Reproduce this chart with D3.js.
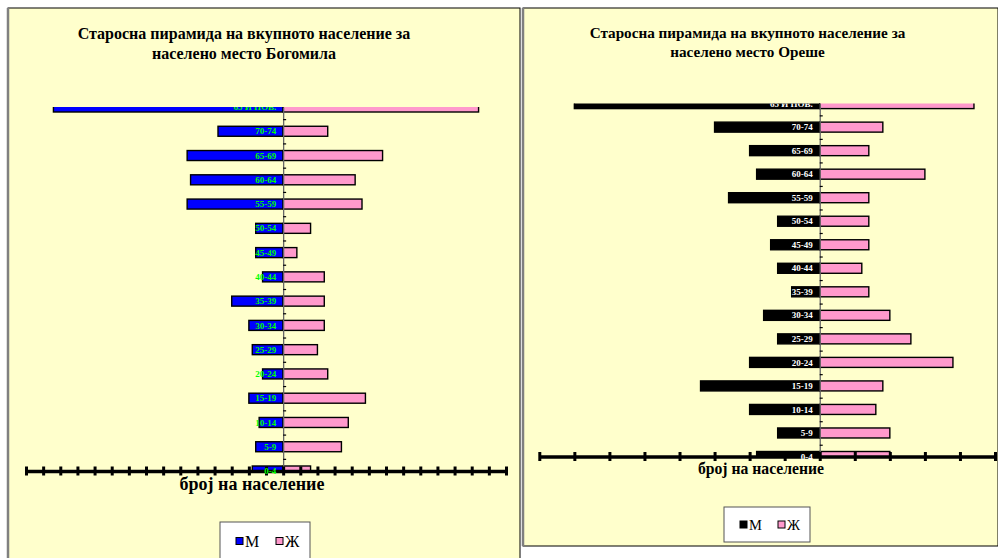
<!DOCTYPE html>
<html>
<head>
<meta charset="utf-8">
<script src="https://cdn.jsdelivr.net/npm/d3@7"></script>
<style>
  body { margin: 0; background: #fff; }
  svg text { font-family: "Liberation Serif", "Times New Roman", serif; }
</style>
</head>
<body>
<script>
// age groups, bottom to top
const ageGroups = ["0-4","5-9","10-14","15-19","20-24","25-29","30-34","35-39",
                   "40-44","45-49","50-54","55-59","60-64","65-69","70-74","65 И ПОВ."];

const bogomilaMale   = [9, 8, 7, 10, 6, 9, 10, 15, 6, 8, 8, 28, 27, 28, 19, 67];
const bogomilaFemale = [8, 17, 19, 24, 13, 10, 12, 12, 12, 4, 8, 23, 21, 29, 13, 57];

const oresheMale   = [9, 6, 10, 17, 10, 6, 8, 4, 6, 7, 6, 13, 9, 10, 15, 35];
const oresheFemale = [10, 10, 8, 9, 19, 13, 10, 7, 6, 7, 7, 7, 15, 7, 9, 22];

const titleLine1 = "Старосна пирамида на вкупното население за";
const axisTitle = "број на население";
const legendLabels = ["М", "Ж"];

const w = 998, h = 558;
const svg = d3.select("body").append("svg")
  .attr("width", w).attr("height", h);

function drawPyramid(cfg) {
  const g = svg.append("g");

  // chart area
  g.append("rect")
    .attr("x", cfg.box[0]).attr("y", cfg.box[1])
    .attr("width", cfg.box[2] - cfg.box[0]).attr("height", cfg.box[3] - cfg.box[1])
    .style("fill", "#FFFFCC").style("stroke", "#000").style("stroke-width", 1);
  g.append("line")
    .attr("x1", cfg.box[0]).attr("x2", cfg.box[0])
    .attr("y1", cfg.box[1]).attr("y2", cfg.box[3])
    .style("stroke", "#808080").style("stroke-width", 2.5);

  // title
  g.append("text").attr("x", cfg.titleX).attr("y", cfg.titleY[0])
    .attr("text-anchor", "middle").style("font-weight", "bold")
    .style("font-size", cfg.titleSize + "px").text(titleLine1);
  g.append("text").attr("x", cfg.titleX).attr("y", cfg.titleY[1])
    .attr("text-anchor", "middle").style("font-weight", "bold")
    .style("font-size", cfg.titleSize + "px").text("населено место " + cfg.place);

  const xScale = d3.scaleLinear().domain(cfg.domain).range(cfg.xRange);
  const yScale = d3.scalePoint().domain(ageGroups).range([cfg.plotBottom, cfg.plotTop]);
  const yIdx = d3.scaleLinear().domain([0, ageGroups.length - 1]).range([cfg.plotBottom, cfg.plotTop]);
  const barH = 10;

  const clipId = "clip-" + cfg.place;
  svg.append("clipPath").attr("id", clipId)
    .append("rect")
    .attr("x", cfg.xRange[0]).attr("y", cfg.plotTop)
    .attr("width", cfg.xRange[1] - cfg.xRange[0])
    .attr("height", cfg.plotBottom - cfg.plotTop);
  svg.append("clipPath").attr("id", clipId + "-lab")
    .append("rect")
    .attr("x", cfg.xRange[0]).attr("y", cfg.plotTop)
    .attr("width", cfg.xRange[1] - cfg.xRange[0])
    .attr("height", cfg.plotBottom - cfg.plotTop + 4);

  const plot = g.append("g").attr("clip-path", "url(#" + clipId + ")");

  plot.selectAll(".male")
    .data(ageGroups)
    .enter().append("rect")
    .attr("class", "male")
    .attr("x", (d, i) => xScale(-cfg.male[i]))
    .attr("y", (d) => yScale(d) - barH / 2)
    .attr("width", (d, i) => xScale(0) - xScale(-cfg.male[i]))
    .attr("height", barH)
    .style("fill", cfg.maleColor).style("stroke", "#000").style("stroke-width", 1.4);

  plot.selectAll(".female")
    .data(ageGroups)
    .enter().append("rect")
    .attr("class", "female")
    .attr("x", xScale(0))
    .attr("y", (d) => yScale(d) - barH / 2)
    .attr("width", (d, i) => xScale(cfg.female[i]) - xScale(0))
    .attr("height", barH)
    .style("fill", "#FF99CC").style("stroke", "#000").style("stroke-width", 1.4);

  // category axis with ticks between groups
  const catAxis = d3.axisRight(yIdx)
    .tickValues(d3.range(0.5, ageGroups.length - 1, 1))
    .tickSize(3).tickSizeOuter(0).tickFormat("");
  const ca = g.append("g")
    .attr("transform", "translate(" + xScale(0) + ",0)")
    .call(catAxis);
  ca.select(".domain").style("stroke", "#666").style("stroke-width", 1.3);
  ca.selectAll(".tick line").style("stroke", "#000").style("stroke-width", 1.2);

  // value axis
  const xAxis = d3.axisBottom(xScale)
    .tickValues(d3.range(cfg.domain[0], cfg.domain[1] + 1, 5))
    .tickSizeOuter(0).tickFormat("");
  const xa = g.append("g")
    .attr("transform", "translate(0," + cfg.plotBottom + ")")
    .call(xAxis);
  xa.select(".domain").style("stroke", "#000").style("stroke-width", 3.5);
  xa.selectAll(".tick line")
    .attr("y1", -4.5).attr("y2", 4.5)
    .style("stroke", "#000").style("stroke-width", 3);

  g.append("g").attr("clip-path", "url(#" + clipId + "-lab)")
    .selectAll(".lab")
    .data(ageGroups)
    .enter().append("text")
    .attr("class", "lab")
    .attr("x", xScale(0) - 7)
    .attr("y", (d) => yScale(d))
    .attr("dy", "0.35em")
    .attr("text-anchor", "end")
    .style("font-size", "9px").style("font-weight", "bold")
    .style("fill", cfg.labelColor)
    .text((d) => d);

  g.append("text").attr("x", cfg.axisTitle[0]).attr("y", cfg.axisTitle[1])
    .attr("text-anchor", "middle").style("font-weight", "bold")
    .style("font-size", cfg.axisTitleSize + "px").text(axisTitle);

  // legend
  const lg = g.append("g").attr("transform", "translate(" + cfg.legend[0] + "," + cfg.legend[1] + ")");
  lg.append("rect").attr("width", cfg.legend[2]).attr("height", cfg.legend[3])
    .style("fill", "#fff").style("stroke", "#555").style("stroke-width", 1);
  const cols = [cfg.maleColor, "#FF99CC"];
  legendLabels.forEach((t, i) => {
    const lx = cfg.legendItems[i];
    lg.append("rect").attr("x", lx).attr("y", cfg.legendMid - 3.5)
      .attr("width", 7).attr("height", 7)
      .style("fill", cols[i]).style("stroke", "#000").style("stroke-width", 1);
    lg.append("text").attr("x", lx + 9).attr("y", cfg.legendMid)
      .attr("dy", "0.35em").style("font-size", cfg.legendSize + "px").text(t);
  });
}

drawPyramid({
  place: "Богомила",
  box: [8, 8, 520, 570],
  titleX: 244, titleY: [39, 59], titleSize: 16,
  domain: [-75, 65], xRange: [26, 506],
  plotTop: 107, plotBottom: 471,
  male: bogomilaMale, female: bogomilaFemale,
  maleColor: "#0000FF", labelColor: "#00FF00",
  axisTitle: [252, 490], axisTitleSize: 18,
  legend: [220, 522, 90, 45], legendItems: [16, 56], legendMid: 19, legendSize: 16
});

drawPyramid({
  place: "Ореше",
  box: [523, 8, 998, 546],
  titleX: 747.5, titleY: [38, 57], titleSize: 15.2,
  domain: [-40, 25], xRange: [539.3, 995],
  plotTop: 103.6, plotBottom: 456.5,
  male: oresheMale, female: oresheFemale,
  maleColor: "#000", labelColor: "#fff",
  axisTitle: [761, 474], axisTitleSize: 15.7,
  legend: [724, 507, 86, 35], legendItems: [16, 54], legendMid: 17.5, legendSize: 14.5
});
</script>
</body>
</html>
